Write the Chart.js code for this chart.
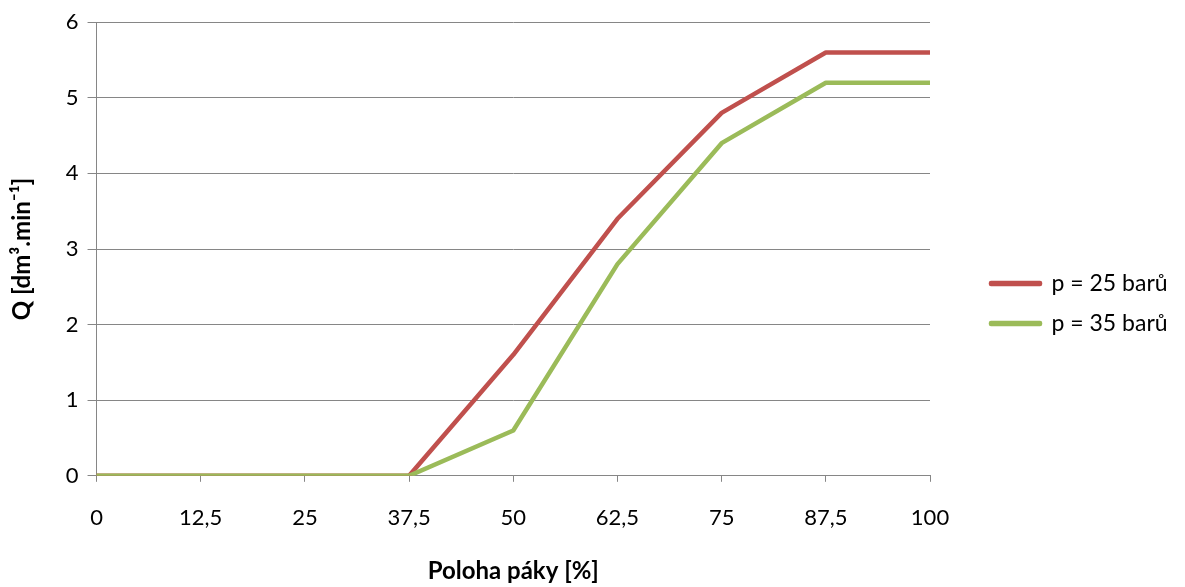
<!DOCTYPE html>
<html>
<head>
<meta charset="utf-8">
<script src="https://cdn.jsdelivr.net/npm/chart.js@4.4.0/dist/chart.umd.min.js"></script>
<style>
  html, body { margin: 0; padding: 0; background: #fff; }
  #wrap { width: 1185px; height: 587px; position: relative; }
</style>
</head>
<body>
<div id="wrap"><canvas id="chart"></canvas></div>
<script>
// poloha páky [%]
var positions = ["0", "12,5", "25", "37,5", "50", "62,5", "75", "87,5", "100"]
var flow25 = [0, 0, 0, 0, 1.6, 3.4, 4.8, 5.6, 5.6]
var flow35 = [0, 0, 0, 0, 0.6, 2.8, 4.4, 5.2, 5.2]
var seriesNames = ["p = 25 barů", "p = 35 barů"]

var font = "Lato, 'Open Sans', sans-serif"
var gridGray = "#868686"

new Chart(document.getElementById("chart"), {
  type: "line",
  data: {
    labels: positions,
    datasets: [
      {
        label: seriesNames[0],
        data: flow25,
        borderColor: "#C0504D",
        backgroundColor: "#C0504D",
        borderWidth: 4.5,
        borderJoinStyle: "round",
        pointRadius: 0,
        tension: 0,
        order: 1,
      },
      {
        label: seriesNames[1],
        data: flow35,
        borderColor: "#9BBB59",
        backgroundColor: "#9BBB59",
        borderWidth: 4.5,
        borderJoinStyle: "round",
        pointRadius: 0,
        tension: 0,
        order: 0,
      },
    ],
  },
  options: {
    responsive: true,
    maintainAspectRatio: false,
    animation: false,
    layout: { padding: { top: 15, right: 17, bottom: -5, left: 4 } },
    plugins: {
      tooltip: { enabled: false },
      legend: {
        position: "right",
        labels: {
          sort: function (a, b) { return a.datasetIndex - b.datasetIndex },
          boxWidth: 49,
          boxHeight: 1,
          padding: 17,
          color: "#000",
          font: { family: font, size: 23 },
        },
      },
    },
    scales: {
      x: {
        offset: false,
        grid: {
          drawOnChartArea: false,
          drawTicks: true,
          tickLength: 6,
          color: gridGray,
        },
        border: { color: gridGray, width: 1 },
        ticks: {
          color: "#000",
          font: { family: font, size: 22 },
          padding: 23,
          maxRotation: 0,
        },
        title: {
          display: true,
          text: "Poloha páky [%]",
          color: "#000",
          font: { family: font, size: 24, weight: "bold" },
          padding: { top: 3, bottom: 6 },
        },
      },
      y: {
        min: 0,
        max: 6,
        ticks: {
          stepSize: 1,
          color: "#000",
          font: { family: font, size: 22 },
          padding: 9,
        },
        grid: {
          color: gridGray,
          tickLength: 9,
        },
        border: { color: gridGray, width: 1 },
        title: {
          display: true,
          text: "Q [dm³.min⁻¹]",
          color: "#000",
          font: { family: font, size: 24, weight: "bold" },
          padding: { top: 4, bottom: 20 },
        },
      },
      // empty axis only to leave room between plot and legend
      gap: {
        axis: "y",
        type: "linear",
        position: "right",
        grid: { display: false },
        border: { display: false },
        ticks: { display: false },
        afterFit: function (scale) { scale.width = 44 },
      },
    },
  },
})
</script>
</body>
</html>
